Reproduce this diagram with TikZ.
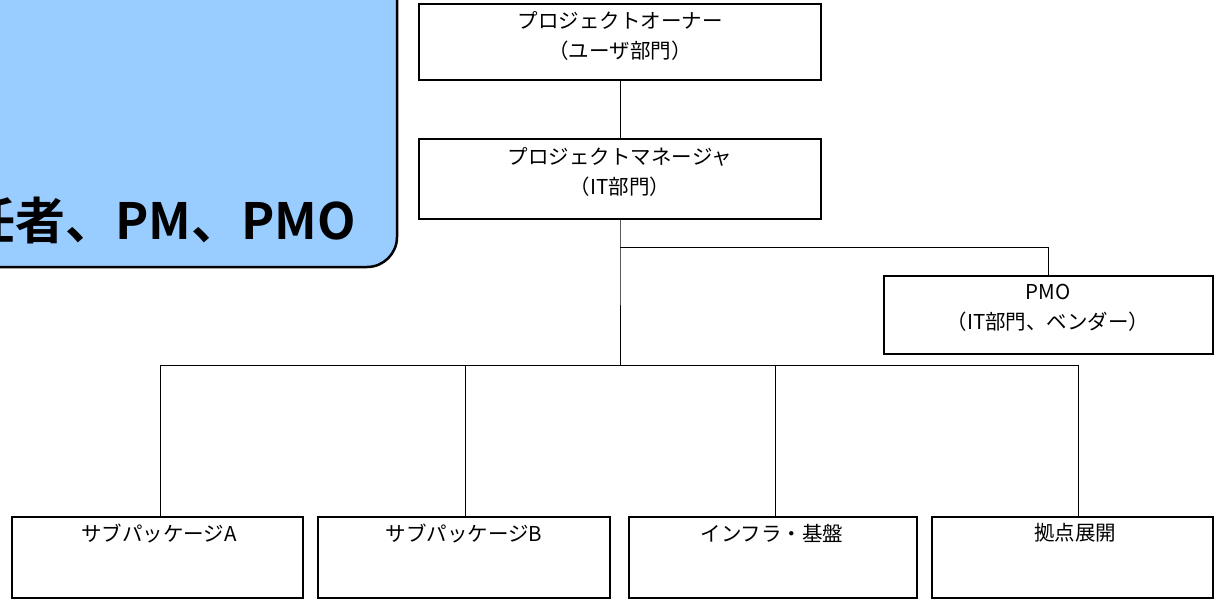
\documentclass[tikz,border=0pt]{standalone}
\usepackage{fontspec}
\newfontfamily\jp{Noto Sans CJK JP}[BoldFont={Noto Sans CJK JP Bold}]
\begin{document}
\begin{tikzpicture}[x=1pt,y=-1pt,
  box/.style={draw=black, line width=1.2pt, fill=white, inner sep=0pt},
  lbl/.style={font=\jp\fontsize{20.5}{29.5}\selectfont, align=center, inner sep=0pt},
  wire/.style={draw=black, line width=1pt}]
\definecolor{panelblue}{HTML}{99CCFF}
\useasboundingbox (0,0) rectangle (1217,606);
\clip (0,0) rectangle (1217,606);
% blue panel
\draw[fill=panelblue, line width=2.5pt, rounded corners=30pt] (-60,-60) -- (397,-60) -- (397,267) -- (-60,267) -- cycle;
\node[anchor=base east, inner sep=0pt, font=\jp\bfseries\fontsize{50}{50}\selectfont] (title) at (356,239) {任者、PM、PMO};
% boxes
\node[box, minimum width=402pt, minimum height=76pt] (owner) at (620,42) {};
\node[box, minimum width=402pt, minimum height=80pt] (pm) at (620,179) {};
\node[box, minimum width=329pt, minimum height=78pt] (pmo) at (1048.5,315) {};
\node[box, minimum width=291pt, minimum height=81pt] (a) at (157.5,557.5) {};
\node[box, minimum width=292pt, minimum height=81pt] (b) at (464,557.5) {};
\node[box, minimum width=288pt, minimum height=81pt] (c) at (773,557.5) {};
\node[box, minimum width=281pt, minimum height=81pt] (d) at (1072.5,557.5) {};
% labels
\node[lbl] (ownerT) at (620,36) {プロジェクトオーナー\\（ユーザ部門）};
\node[lbl] (pmT) at (620,172) {プロジェクトマネージャ\\（IT部門）};
\node[lbl] (pmoT) at (1048,308) {PMO\\（IT部門、ベンダー）};
\node[lbl] (aT) at (159,533) {サブパッケージA};
\node[lbl] (bT) at (464,533) {サブパッケージB};
\node[lbl] (cT) at (772,533) {インフラ・基盤};
\node[lbl] (dT) at (1075,533) {拠点展開};
% connector points
\coordinate (split) at (620,247);
\coordinate (bus) at (620,365);
\coordinate (atop) at (160,517);
\coordinate (btop) at (465,517);
\coordinate (ctop) at (775,517);
\coordinate (dtop) at (1078,517);
% connectors
\draw[wire] (owner.south) -- (pm.north);
\draw[wire] (pm.south) -- (split) -- (bus);
\draw[wire] (split) -| (pmo.north);
\draw[wire] (bus) -| (atop);
\draw[wire] (bus) -| (btop);
\draw[wire] (bus) -| (ctop);
\draw[wire] (bus) -| (dtop);
\end{tikzpicture}
\end{document}
